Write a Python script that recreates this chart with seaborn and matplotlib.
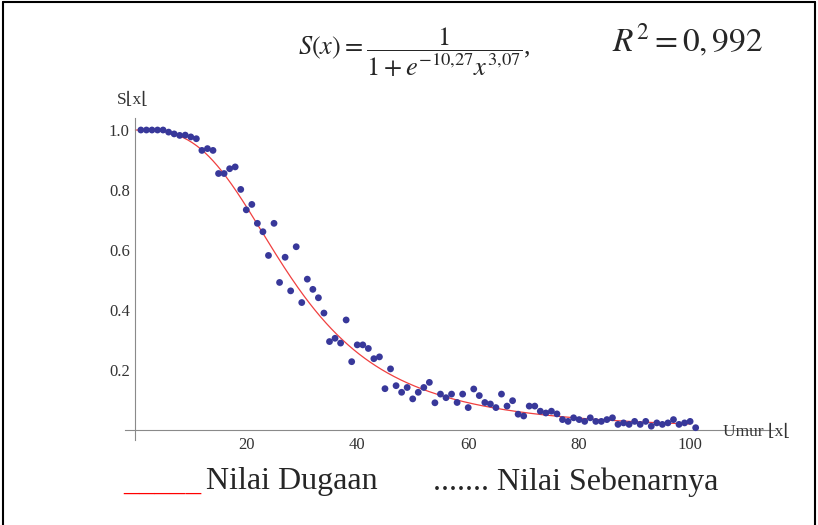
import numpy as np
import pandas as pd
import matplotlib
matplotlib.use("Agg")
import matplotlib.pyplot as plt
from matplotlib.lines import Line2D
import seaborn as sns

umur = list(range(1, 102))
nilai_sebenarnya = [
    1.000, 1.000, 1.000, 1.000, 1.000, 0.993, 0.987, 0.982, 0.983, 0.977,
    0.971, 0.932, 0.938, 0.932, 0.855, 0.855, 0.871, 0.877, 0.802, 0.734,
    0.752, 0.689, 0.661, 0.582, 0.689, 0.492, 0.576, 0.464, 0.611, 0.425,
    0.503, 0.469, 0.441, 0.390, 0.295, 0.306, 0.290, 0.367, 0.228, 0.284,
    0.284, 0.272, 0.238, 0.244, 0.138, 0.204, 0.148, 0.126, 0.142, 0.104,
    0.126, 0.142, 0.159, 0.091, 0.120, 0.108, 0.120, 0.092, 0.120, 0.075,
    0.137, 0.115, 0.092, 0.087, 0.075, 0.120, 0.080, 0.098, 0.053, 0.047,
    0.080, 0.080, 0.063, 0.057, 0.063, 0.054, 0.035, 0.029, 0.041, 0.035,
    0.029, 0.041, 0.029, 0.029, 0.035, 0.041, 0.019, 0.024, 0.019, 0.029,
    0.019, 0.029, 0.013, 0.024, 0.019, 0.024, 0.035, 0.019, 0.024, 0.029,
    0.008,
]

# fitted model S(x) = 1 / (1 + e^{-10.27} x^{3.07})
a_coef = -10.27
b_coef = 3.07
x_fit = np.linspace(0.01, 100, 400)
s_fit = 1 / (1 + np.exp(a_coef) * x_fit ** b_coef)

x_ticks = [20, 40, 60, 80, 100]
y_ticks = [0.2, 0.4, 0.6, 0.8, 1.0]

obs = pd.DataFrame({"umur": umur, "s": nilai_sebenarnya})
fit = pd.DataFrame({"umur": x_fit, "s": s_fit})

sns.set_style("white")
plt.rcParams["font.family"] = ["Liberation Serif", "DejaVu Serif"]
plt.rcParams["mathtext.fontset"] = "stix"

W, H = 818, 525
fig = plt.figure(figsize=(W / 100, H / 100), dpi=100)
ax = fig.add_axes([125 / W, 85 / H, 650 / W, 322 / H])

sns.lineplot(data=fit, x="umur", y="s", ax=ax, color="#f04040", lw=0.9)
sns.scatterplot(data=obs, x="umur", y="s", ax=ax, color="#38389a",
                s=24, edgecolor="none", zorder=3)

ax.set_xlim(-1.86, 115.3)
ax.set_ylim(-0.033, 1.04)
ax.set_xlabel("")
ax.set_ylabel("")

for side in ["top", "right"]:
    ax.spines[side].set_visible(False)
ax.spines["left"].set_position(("data", 0))
ax.spines["bottom"].set_position(("data", 0))
for side in ["left", "bottom"]:
    ax.spines[side].set_color("#8a8a8a")
    ax.spines[side].set_linewidth(0.8)

ax.set_xticks(x_ticks)
ax.set_xticks(np.arange(5, 115, 5), minor=True)
ax.set_yticks(y_ticks)
ax.set_yticks(np.arange(0.05, 1.04, 0.05), minor=True)
ax.set_xticklabels([str(t) for t in x_ticks])
ax.set_yticklabels([f"{t:.1f}" for t in y_ticks])
ax.tick_params(which="major", direction="in", length=5, width=0.7,
               color="#8a8a8a", labelsize=12, labelcolor="#333333")
ax.tick_params(which="minor", direction="in", length=3, width=0.6,
               color="#8a8a8a")
ax.tick_params(axis="x", which="major", pad=5)
ax.tick_params(axis="y", which="major", pad=4)

# axis labels as in the Mathematica output
fig.text(117 / W, 1 - 100 / H, "S\u230ax\u230a", fontsize=12.5,
         color="#333333", ha="left", va="center")
fig.text(723 / W, 1 - 432 / H, "Umur \u230ax\u230a", fontsize=12.5,
         color="#333333", ha="left", va="center")

# formula and goodness of fit
fig.text(298 / W, 1 - 52 / H,
         r"$S(x)=\dfrac{1}{1+e^{-10{,}27}x^{3{,}07}}$,",
         fontsize=19, ha="left", va="center")
fig.text(612 / W, 1 - 40 / H, r"$R^2=0,992$", fontsize=24,
         ha="left", va="center")

# legend written as text
fig.text(123 / W, 1 - 482 / H, "_____", fontsize=22.5, color="red",
         ha="left", va="center")
fig.text(206 / W, 1 - 482 / H, "Nilai Dugaan", fontsize=23,
         ha="left", va="center")
fig.text(433 / W, 1 - 482 / H, "....... Nilai Sebenarnya", fontsize=23,
         ha="left", va="center")

# page frame (top, left, right)
for xs, ys in [([3 / W, 815 / W], [1 - 2 / H, 1 - 2 / H]),
               ([3 / W, 3 / W], [0, 1 - 2 / H]),
               ([815 / W, 815 / W], [0, 1 - 2 / H])]:
    fig.add_artist(Line2D(xs, ys, transform=fig.transFigure,
                          color="black", lw=1.5))

fig.savefig("out.png", dpi=100)
